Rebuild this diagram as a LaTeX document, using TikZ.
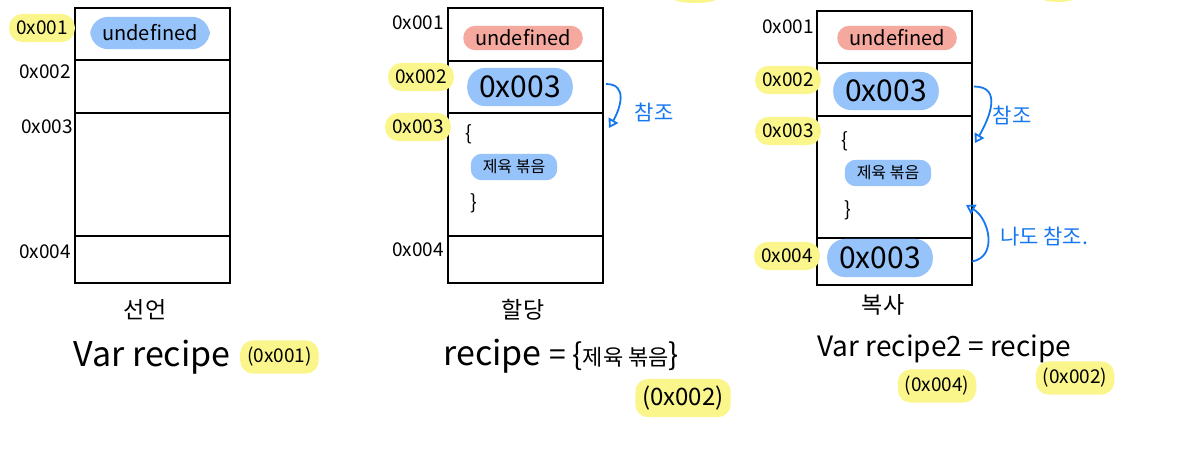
\documentclass[tikz,border=0pt]{standalone}
\usepackage{fontspec}
\setmainfont{Noto Sans CJK KR}
\usetikzlibrary{positioning,arrows.meta}

\definecolor{hlyellow}{RGB}{250,246,140}
\definecolor{hlblue}{RGB}{150,195,250}
\definecolor{hlred}{RGB}{244,168,158}
\definecolor{refblue}{RGB}{22,120,240}

\tikzset{
  cell/.style={draw,line width=1.4pt,minimum width=155pt,outer sep=0pt,inner sep=0pt},
  addr/.style={font=\fontsize{19}{21}\selectfont,inner sep=2pt},
  yelbox/.style={fill=hlyellow,rounded corners=13pt,inner xsep=7pt,inner ysep=7pt},
  blubox/.style={fill=hlblue,rounded corners=18pt,inner xsep=12pt,inner ysep=8pt},
  redbox/.style={fill=hlred,rounded corners=12pt,inner xsep=12pt,inner ysep=4pt},
  refarrow/.style={draw=refblue,line width=1.8pt,-{Triangle[open,length=9pt,width=11pt]}},
  reftext/.style={text=refblue,font=\fontsize{21}{23}\selectfont},
}

\begin{document}
\begin{tikzpicture}[x=1pt,y=-1pt]
        \useasboundingbox (0,0) rectangle (1191,448);
        \fill[white] (0,0) rectangle (1191,448);
        % bits of highlights cut off at the top
        \fill[hlyellow] (695,-3) ellipse (24 and 6);
        \fill[hlyellow] (1058,-3) ellipse (18 and 5);

        % declaration
        \node[cell,minimum height=52pt] (a1) at (152.5,34) {};
        \node[cell,minimum height=53pt,below=0pt of a1] (a2) {};
        \node[cell,minimum height=123pt,below=0pt of a2] (a3) {};
        \node[cell,minimum height=47pt,below=0pt of a3] (a4) {};

        \node[addr,yelbox] (a1addr) at (42,28) {0x001};
        \node[addr] (a2addr) at (45,72) {0x002};
        \node[addr] (a3addr) at (47,127) {0x003};
        \node[addr] (a4addr) at (45,252) {0x004};

        \node[blubox,font=\fontsize{20}{22}\selectfont] (a1val) at (150,33) {undefined};

        \node[font=\fontsize{23}{25}\selectfont] (a1title) at (145,310) {선언};
        \node[font=\fontsize{34}{36}\selectfont,anchor=west] (a1code) at (70,357) {Var recipe};
        \node[yelbox,font=\fontsize{19}{21}\selectfont,anchor=west] (a1ref) at (240,357) {(0x001)};

        % allocation
        \node[cell,minimum height=53pt] (b1) at (525.5,34.5) {};
        \node[cell,minimum height=52pt,below=0pt of b1] (b2) {};
        \node[cell,minimum height=123pt,below=0pt of b2] (b3) {};
        \node[cell,minimum height=47pt,below=0pt of b3] (b4) {};

        \node[addr] (b1addr) at (418,23) {0x001};
        \node[addr,yelbox] (b2addr) at (421,77) {0x002};
        \node[addr,yelbox] (b3addr) at (418,127) {0x003};
        \node[addr] (b4addr) at (418,250) {0x004};

        \node[redbox,font=\fontsize{20}{22}\selectfont] (b1val) at (523,38) {undefined};
        \node[blubox,font=\fontsize{30}{32}\selectfont] (b2val) at (520,87) {0x003};
        \node[font=\fontsize{20}{22}\selectfont] (b3open) at (469,134) {\{};
        \node[blubox,rounded corners=11pt,font=\fontsize{16}{18}\selectfont,inner ysep=6pt] (b3val) at (514,167) {제육 볶음};
        \node[font=\fontsize{20}{22}\selectfont] (b3close) at (474,203) {\}};

        \draw[refarrow] ([xshift=3pt,yshift=3pt]b2.east) to[out=0,in=60,looseness=1.3] ([xshift=6pt,yshift=-15pt]b3.north east);
        \node[reftext] (b2ref) at (654,112) {참조};

        \node[font=\fontsize{23}{25}\selectfont] (b1title) at (523,310) {할당};
        \node[font=\fontsize{34}{36}\selectfont,anchor=west] (b1code) at (440,356) {recipe {\fontsize{30}{32}\selectfont = \{{\fontsize{22}{24}\selectfont 제육 볶음}\}}};
        \node[yelbox,font=\fontsize{24}{26}\selectfont] (b1ref) at (683,398) {(0x002)};

        % copy
        \node[cell,minimum height=52pt] (c1) at (894.5,37) {};
        \node[cell,minimum height=53pt,below=0pt of c1] (c2) {};
        \node[cell,minimum height=122pt,below=0pt of c2] (c3) {};
        \node[cell,minimum height=47pt,below=0pt of c3] (c4) {};

        \node[addr] (c1addr) at (788,27) {0x001};
        \node[addr,yelbox] (c2addr) at (788,80) {0x002};
        \node[addr,yelbox] (c3addr) at (788,131) {0x003};
        \node[addr,yelbox] (c4addr) at (787,256) {0x004};

        \node[redbox,font=\fontsize{20}{22}\selectfont] (c1val) at (897,38) {undefined};
        \node[blubox,font=\fontsize{30}{32}\selectfont] (c2val) at (886,91) {0x003};
        \node[font=\fontsize{20}{22}\selectfont] (c3open) at (845,141) {\{};
        \node[blubox,rounded corners=11pt,font=\fontsize{16}{18}\selectfont,inner ysep=6pt] (c3val) at (888,173) {제육 볶음};
        \node[font=\fontsize{20}{22}\selectfont] (c3close) at (848,210) {\}};
        \node[blubox,font=\fontsize{30}{32}\selectfont] (c4val) at (880,258) {0x003};

        \draw[refarrow] ([xshift=2pt,yshift=3pt]c2.east) to[out=0,in=60,looseness=1.3] ([xshift=3pt,yshift=-27pt]c3.north east);
        \node[reftext] (c2ref) at (1012,115) {참조};
        \draw[refarrow] ([xshift=0pt,yshift=0pt]c4.east) to[out=10,in=-30,looseness=1.2] ([xshift=-6pt,yshift=33pt]c4.north east);
        \node[reftext] (c4ref) at (1044,237) {나도 참조.};

        \node[font=\fontsize{23}{25}\selectfont] (c1title) at (883,305) {복사};
        \node[font=\fontsize{28}{30}\selectfont,anchor=west] (c1code) at (814,349) {Var recipe2 = recipe};
        \node[yelbox,font=\fontsize{19}{21}\selectfont] (c1new) at (937,386) {(0x004)};
        \node[yelbox,font=\fontsize{19}{21}\selectfont] (c1old) at (1075,378) {(0x002)};
      \end{tikzpicture}
\end{document}
